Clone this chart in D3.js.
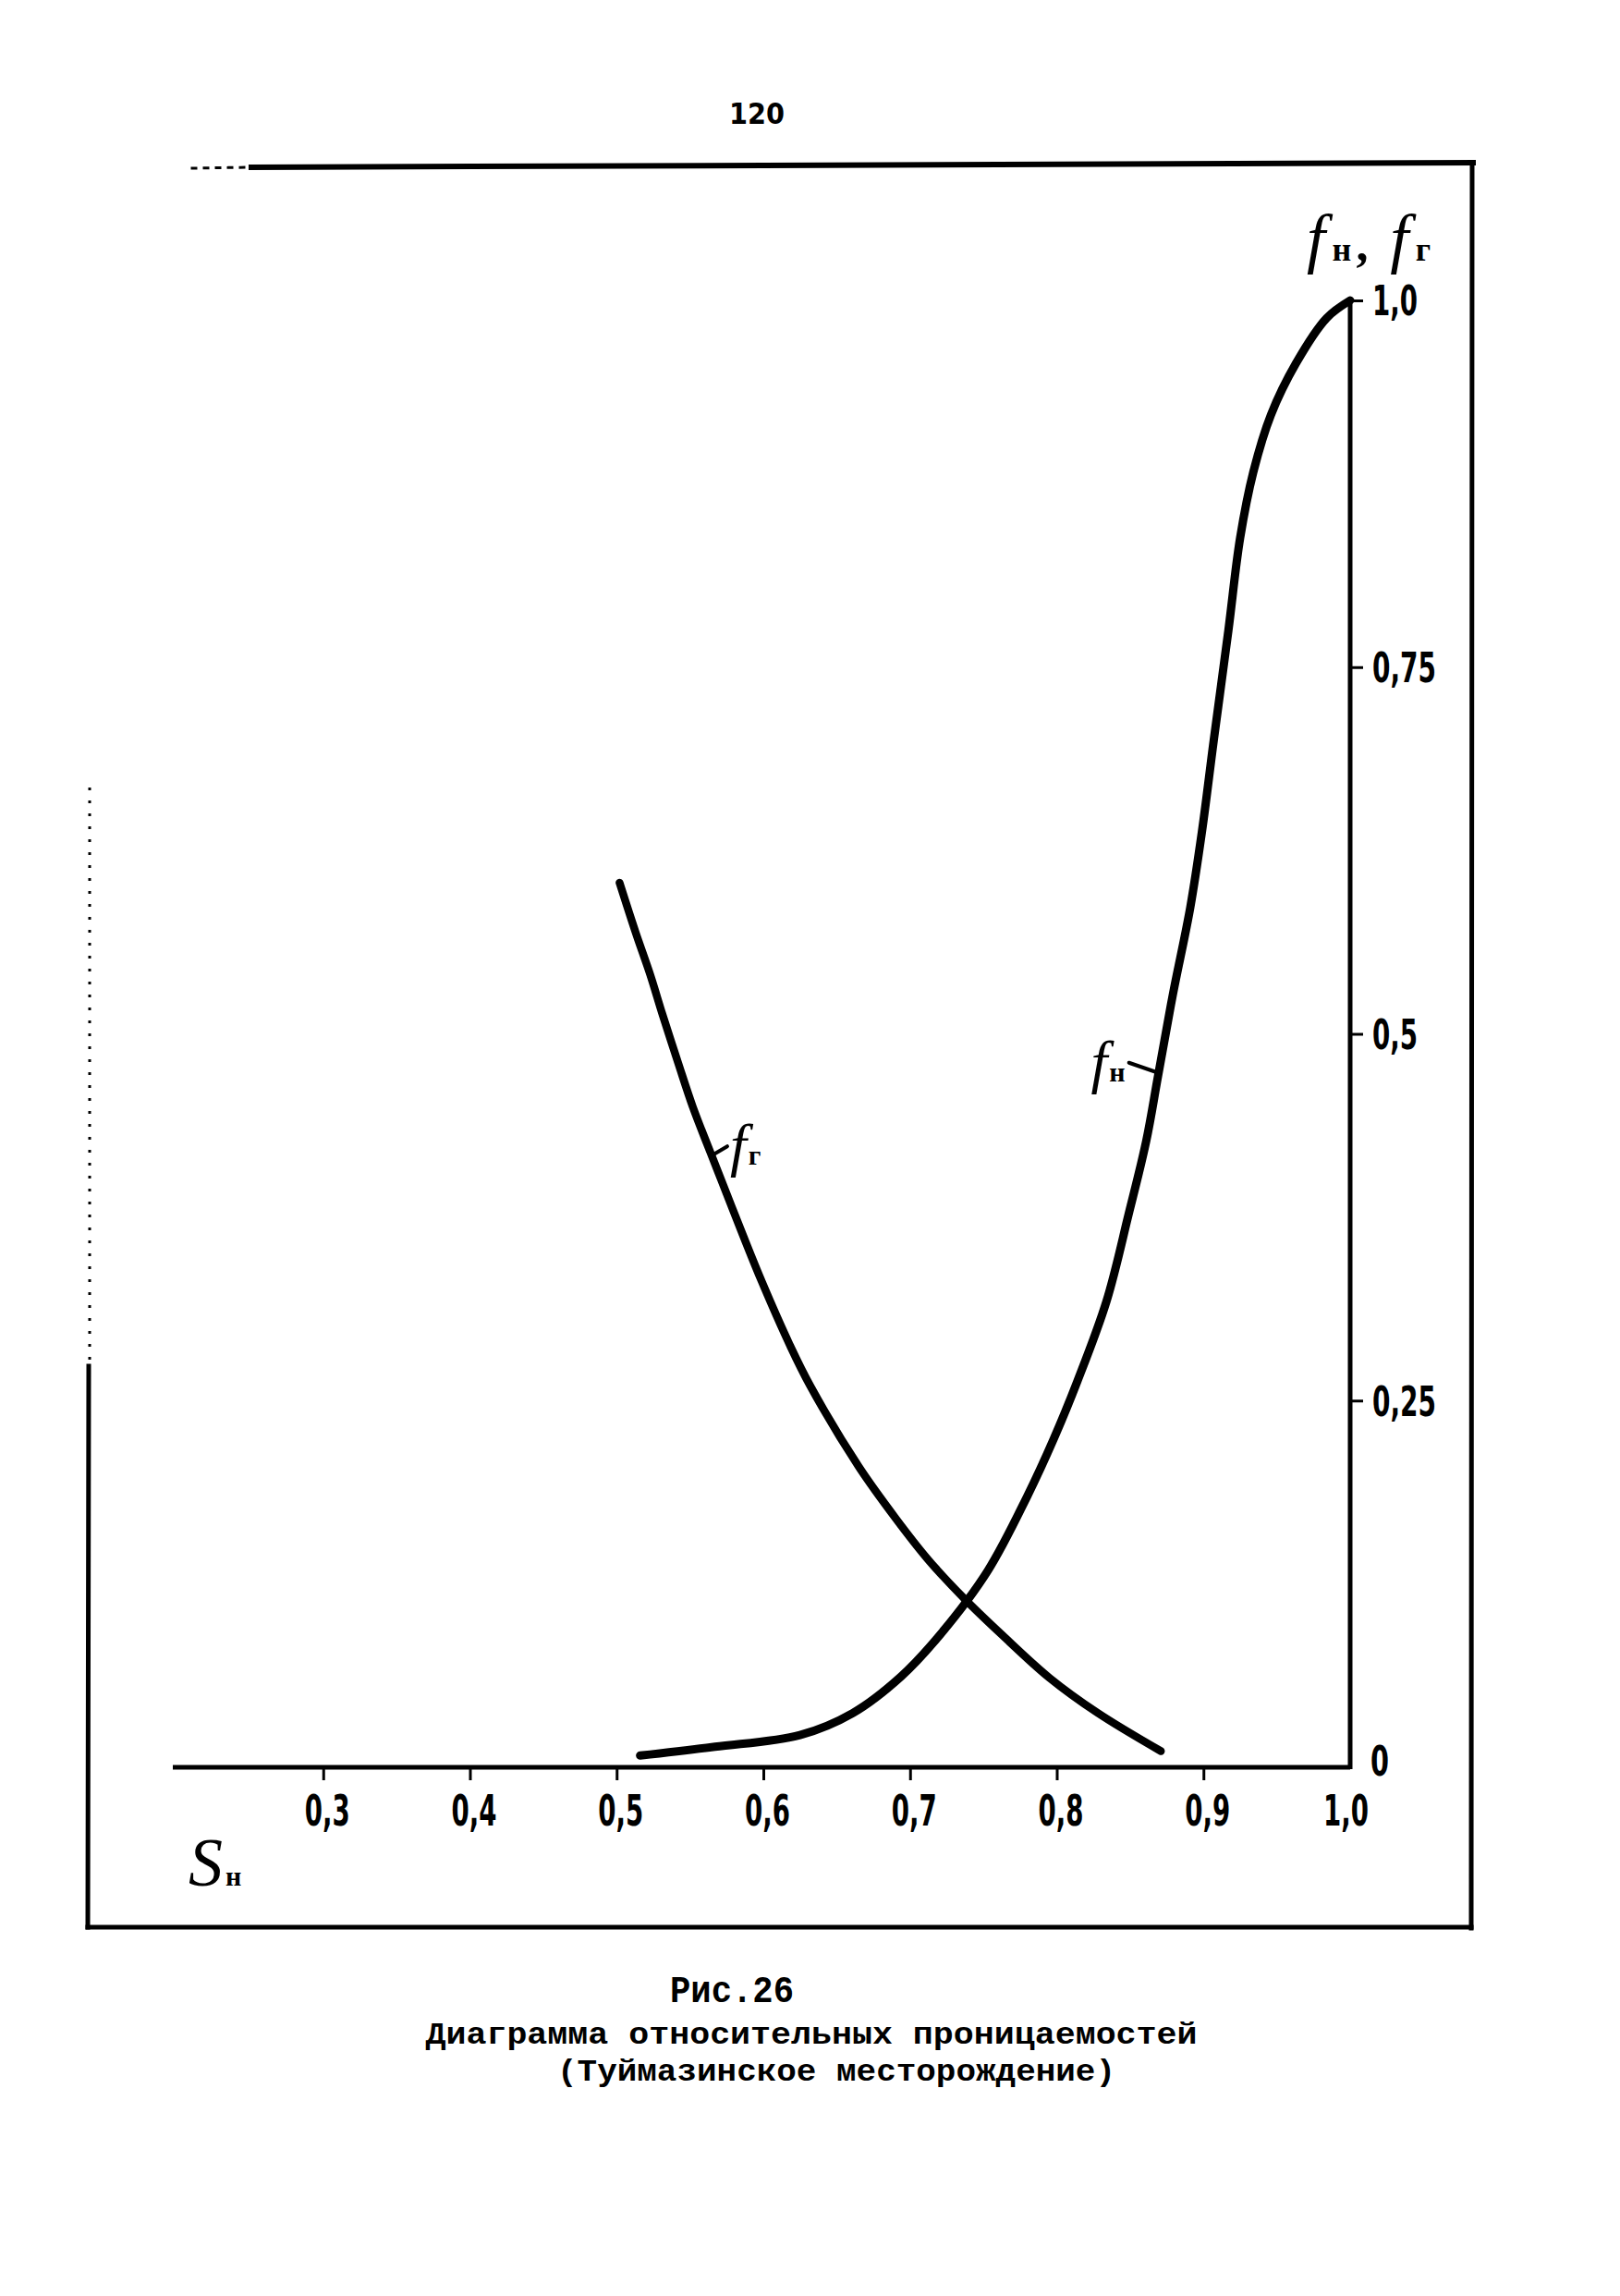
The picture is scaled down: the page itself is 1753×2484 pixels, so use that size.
<!DOCTYPE html>
<html>
<head>
<meta charset="utf-8">
<script src="https://cdn.jsdelivr.net/npm/d3@7"></script>
<style>
  html, body { margin: 0; padding: 0; background: #ffffff; }
  svg { display: block; }
</style>
</head>
<body>
<script>
// ---------- data ----------
const xTicks = [0.3, 0.4, 0.5, 0.6, 0.7, 0.8, 0.9, 1.0];
const xTickLabels = ["0,3", "0,4", "0,5", "0,6", "0,7", "0,8", "0,9", "1,0"];
const yTicks = [0, 0.25, 0.5, 0.75, 1.0];
const yTickLabels = ["0", "0,25", "0,5", "0,75", "1,0"];

// oil relative permeability f_н vs S_н
const oilS = [0.516, 0.567, 0.625, 0.661, 0.694, 0.721, 0.753, 0.780, 0.798, 0.814, 0.834, 0.849, 0.861, 0.869, 0.879, 0.891, 0.899, 0.907, 0.917, 0.925, 0.934, 0.946, 0.963, 0.984, 1.0];
const oilF = [0.008, 0.014, 0.022, 0.037, 0.062, 0.091, 0.134, 0.185, 0.224, 0.263, 0.318, 0.377, 0.427, 0.471, 0.526, 0.586, 0.638, 0.700, 0.775, 0.838, 0.883, 0.922, 0.957, 0.988, 1.0];

// gas relative permeability f_г vs S_н
const gasS = [0.502, 0.513, 0.523, 0.531, 0.542, 0.552, 0.564, 0.575, 0.586, 0.599, 0.618, 0.632, 0.665, 0.690, 0.712, 0.737, 0.763, 0.795, 0.828, 0.871];
const gasF = [0.603, 0.569, 0.540, 0.514, 0.480, 0.450, 0.419, 0.391, 0.363, 0.331, 0.288, 0.260, 0.205, 0.170, 0.142, 0.115, 0.090, 0.061, 0.037, 0.011];

const pageNumber = "120";
const captionLines = ["Рис.26", "Диаграмма относительных проницаемостей", "(Туймазинское месторождение)"];

// ---------- layout ----------
const W = 1753, H = 2484;
const svg = d3.select("body").append("svg")
  .attr("width", W).attr("height", H)
  .attr("viewBox", `0 0 ${W} ${H}`);
svg.append("rect").attr("width", W).attr("height", H).attr("fill", "#fff");

const x = d3.scaleLinear().domain([0.2, 1.0]).range([191, 1461]);
const y = d3.scaleLinear().domain([0, 1]).range([1912, 325]);

const ink = "#000";

// page number
svg.append("text")
  .attr("x", 819).attr("y", 134)
  .attr("text-anchor", "middle")
  .attr("font-family", "'DejaVu Sans Condensed', 'DejaVu Sans', sans-serif")
  .attr("font-weight", "bold")
  .attr("font-size", 32)
  .attr("textLength", 60).attr("lengthAdjust", "spacingAndGlyphs")
  .attr("fill", ink)
  .text(pageNumber);

// ---------- frame ----------
const frame = svg.append("g").attr("stroke", ink).attr("fill", "none").attr("stroke-linecap", "square");
frame.append("line").attr("x1", 208).attr("y1", 182).attr("x2", 268).attr("y2", 181)
  .attr("stroke-width", 3).attr("stroke-dasharray", "4 9");
frame.append("line").attr("x1", 272).attr("y1", 181).attr("x2", 1594).attr("y2", 176).attr("stroke-width", 6);
frame.append("line").attr("x1", 1593).attr("y1", 176).attr("x2", 1592).attr("y2", 2086).attr("stroke-width", 5);
frame.append("line").attr("x1", 95).attr("y1", 2085).attr("x2", 1592).attr("y2", 2085).attr("stroke-width", 5);
frame.append("line").attr("x1", 96).attr("y1", 1478).attr("x2", 95).attr("y2", 2085).attr("stroke-width", 5);
frame.append("line").attr("x1", 97).attr("y1", 852).attr("x2", 97).attr("y2", 1478)
  .attr("stroke-width", 3).attr("stroke-dasharray", "3 11").attr("stroke-linecap", "butt");

// ---------- axes ----------
const tickFont = "'DejaVu Sans Condensed', 'DejaVu Sans', sans-serif";
function labelLen(s) {
  let n = 0;
  for (const c of s) n += (c === "," ? 9 : 20);
  return n;
}

const xAxis = d3.axisBottom(x)
  .tickValues(xTicks)
  .tickSize(14)
  .tickSizeOuter(0)
  .tickFormat((d, i) => xTickLabels[i]);
const gx = svg.append("g").attr("transform", `translate(0,${y(0)})`).call(xAxis);
gx.select(".domain").attr("stroke", ink).attr("stroke-width", 5)
  .attr("d", `M${x(0.2) - 4},0H${x(1.0)}`);
gx.selectAll(".tick line").attr("stroke", ink).attr("stroke-width", 3)
  .filter(d => d === 1.0).remove();
gx.selectAll(".tick text")
  .attr("font-family", tickFont).attr("font-weight", "bold")
  .attr("font-size", 46).attr("fill", ink)
  .attr("dy", 0).attr("y", 63).attr("dx", d => d === 1.0 ? -5 : 4)
  .attr("textLength", d => labelLen(xTickLabels[xTicks.indexOf(d)]))
  .attr("lengthAdjust", "spacingAndGlyphs");

const yAxis = d3.axisRight(y)
  .tickValues(yTicks)
  .tickSize(14)
  .tickSizeOuter(0)
  .tickFormat((d, i) => yTickLabels[i]);
const gy = svg.append("g").attr("transform", `translate(${x(1.0)},0)`).call(yAxis);
gy.select(".domain").attr("stroke", ink).attr("stroke-width", 5)
  .attr("d", `M0,${y(1.0)}V${y(0) + 2}`);
gy.selectAll(".tick line").attr("stroke", ink).attr("stroke-width", 3)
  .filter(d => d === 0).remove();
gy.selectAll(".tick text")
  .attr("font-family", tickFont).attr("font-weight", "bold")
  .attr("font-size", 44).attr("fill", ink)
  .attr("x", d => d === 0 ? 22 : 24)
  .attr("dy", d => d === 0 ? "0.2em" : "0.36em")
  .attr("textLength", d => labelLen(yTickLabels[yTicks.indexOf(d)]))
  .attr("lengthAdjust", "spacingAndGlyphs");

// axis titles
const serif = "'Liberation Serif', 'DejaVu Serif', serif";
const yTitle = svg.append("text")
  .attr("x", 1414).attr("y", 282)
  .attr("font-family", serif).attr("fill", ink)
  .attr("textLength", 134).attr("lengthAdjust", "spacing");
yTitle.append("tspan").attr("font-style", "italic").attr("font-size", 72).text("f");
yTitle.append("tspan").attr("font-size", 36).attr("font-weight", "bold").attr("dx", 2).text("н");
yTitle.append("tspan").attr("font-size", 52).attr("font-weight", "bold").text(", ");
yTitle.append("tspan").attr("font-style", "italic").attr("font-size", 72).text("f");
yTitle.append("tspan").attr("font-size", 36).attr("font-weight", "bold").attr("dx", 2).text("г");

const xTitle = svg.append("text")
  .attr("x", 204).attr("y", 2040)
  .attr("font-family", serif).attr("fill", ink);
xTitle.append("tspan").attr("font-style", "italic").attr("font-size", 74).text("S");
xTitle.append("tspan").attr("font-size", 30).attr("font-weight", "bold").attr("dx", 3).text("н");

// ---------- curves ----------
const line = d3.line()
  .x(d => x(d[0]))
  .y(d => y(d[1]))
  .curve(d3.curveCatmullRom.alpha(0.5));

const oilData = oilS.map((s, i) => [s, oilF[i]]);
const gasData = gasS.map((s, i) => [s, gasF[i]]);

svg.append("path").datum(oilData)
  .attr("d", line)
  .attr("fill", "none").attr("stroke", ink)
  .attr("stroke-width", 9).attr("stroke-linecap", "round").attr("stroke-linejoin", "round");

svg.append("path").datum(gasData)
  .attr("d", line)
  .attr("fill", "none").attr("stroke", ink)
  .attr("stroke-width", 8.5).attr("stroke-linecap", "round").attr("stroke-linejoin", "round");

// ---------- curve labels ----------
function curveLabel(sVal, fVal, dx1, dy1, tx, ty, sub, anchor) {
  const px = x(sVal), py = y(fVal);
  svg.append("line")
    .attr("x1", px).attr("y1", py).attr("x2", px + dx1).attr("y2", py + dy1)
    .attr("stroke", ink).attr("stroke-width", 4).attr("stroke-linecap", "round");
  const t = svg.append("text")
    .attr("x", px + tx).attr("y", py + ty)
    .attr("text-anchor", anchor)
    .attr("font-family", serif).attr("fill", ink);
  t.append("tspan").attr("font-style", "italic").attr("font-size", 64).text("f");
  t.append("tspan").attr("font-size", 30).attr("font-weight", "bold").attr("dx", 2).text(sub);
}
// f_г label on gas curve
curveLabel(0.5647, 0.417, 17, -10, 20, 10, "г", "start");
// f_н label on oil curve
curveLabel(0.8675, 0.474, -29, -10, -33, 10, "н", "end");

// ---------- caption ----------
const capFont = "'Liberation Mono', 'DejaVu Sans Mono', monospace";
svg.append("text").attr("x", 792).attr("y", 2166).attr("text-anchor", "middle")
  .attr("font-family", capFont).attr("font-weight", "bold").attr("font-size", 40)
  .attr("textLength", 134).attr("lengthAdjust", "spacingAndGlyphs")
  .attr("fill", ink).text(captionLines[0]);
svg.append("text").attr("x", 878).attr("y", 2211).attr("text-anchor", "middle")
  .attr("font-family", capFont).attr("font-weight", "bold").attr("font-size", 34)
  .attr("textLength", 835).attr("lengthAdjust", "spacingAndGlyphs")
  .attr("fill", ink).text(captionLines[1]);
svg.append("text").attr("x", 905).attr("y", 2251).attr("text-anchor", "middle")
  .attr("font-family", capFont).attr("font-weight", "bold").attr("font-size", 34)
  .attr("textLength", 604).attr("lengthAdjust", "spacingAndGlyphs")
  .attr("fill", ink).text(captionLines[2]);
</script>
</body>
</html>
